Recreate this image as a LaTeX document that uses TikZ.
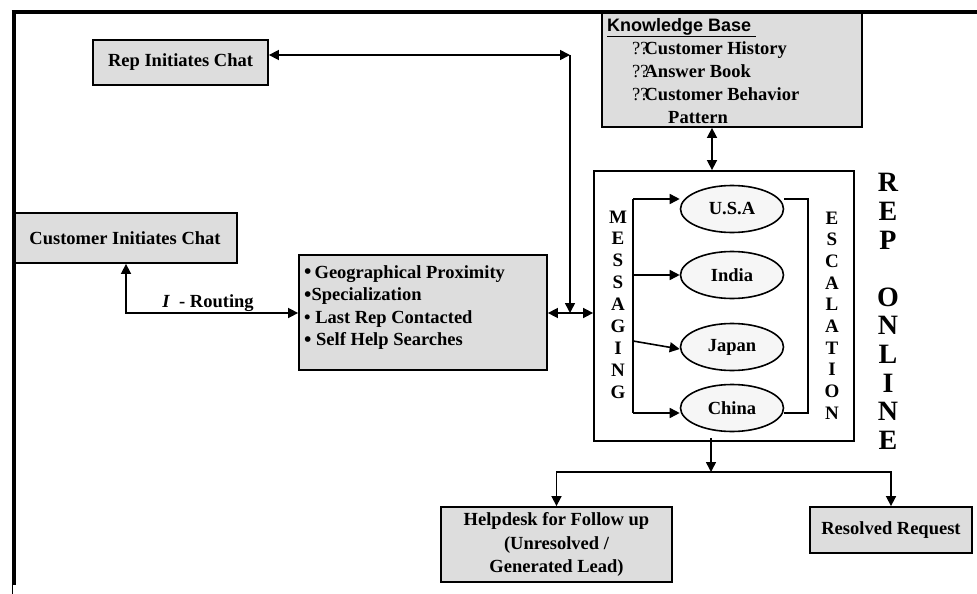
\documentclass[tikz,border=0pt]{standalone}
\usepackage{fontspec}
\setmainfont{Liberation Serif}
\newfontfamily\kbsans{Liberation Sans}
\usetikzlibrary{arrows.meta,shapes.geometric}

\definecolor{boxgray}{RGB}{221,221,221}
\definecolor{ellgray}{RGB}{246,246,246}

\newcommand{\dotmark}{\raisebox{-0.5pt}{\fontsize{21}{22}\selectfont\textbullet}}

\begin{document}
\begin{tikzpicture}[x=1pt,y=-1pt,
  >={Triangle[length=10pt,width=10pt]},
  every node/.style={font=\bfseries\fontsize{18.5}{22}\selectfont},
  box/.style={draw, line width=1.8pt, fill=boxgray, inner sep=0pt},
  region/.style={draw, ellipse, line width=1.6pt, fill=ellgray,
    minimum width=103pt, minimum height=47pt, inner sep=0pt},
  link/.style={line width=1.6pt},
  plain/.style={inner sep=0pt},
  column/.style={inner sep=0pt, align=center},
  frameline/.style={line width=4pt}
]
\useasboundingbox (0,0) rectangle (977,594);

% ---- boxes ----
\node[box, minimum width=175pt, minimum height=45pt] (rep) at (180.5,62.5) {Rep Initiates Chat};
\node[box, minimum width=224pt, minimum height=50pt] (cust) at (125,238) {Customer Initiates Chat};
\node[box, minimum width=248pt, minimum height=115pt] (route) at (423,312.5) {};
\node[box, minimum width=260pt, minimum height=114pt] (kb) at (732,70) {};
\node[draw, line width=1.8pt, fill=white, minimum width=260pt, minimum height=270pt] (online) at (724,306) {};
\node[box, minimum width=231pt, minimum height=75pt, align=center,
      font=\bfseries\fontsize{18.5}{23.5}\selectfont] (help) at (556.5,544.5)
      {Helpdesk for Follow up\\(Unresolved /\\Generated Lead)};
\node[box, minimum width=162pt, minimum height=46pt] (res) at (891,530) {Resolved Request};

% ---- box contents ----
\node[plain, anchor=north west, align=left,
      font=\bfseries\fontsize{18.5}{22.5}\selectfont] (criteria) at (304,265)
  {\dotmark\,Geographical Proximity\\
   \dotmark Specialization\\
   \textbullet\ Last Rep Contacted\\
   \dotmark\ Self Help Searches};

\node[plain, anchor=north west, align=left,
      font=\bfseries\fontsize{18.5}{23}\selectfont] (kbtext) at (607,18)
  {{\kbsans\fontsize{18}{23}\selectfont\underline{Knowledge Base\ }}\\
   \hspace*{25pt}{\mdseries ??}\kern-4pt Customer History\\
   \hspace*{25pt}{\mdseries ??}\kern-4pt Answer Book\\
   \hspace*{25pt}{\mdseries ??}\kern-4pt Customer Behavior\\
   \hspace*{61pt}Pattern};

% ---- regions ----
\node[region] (usa)   at (732,209) {U.S.A};
\node[region] (india) at (732,275) {India};
\node[region] (japan) at (732,347) {Japan};
\node[region] (china) at (732,408) {China};

\node[column, font=\bfseries\fontsize{19}{21.9}\selectfont] (msg) at (618,304.5)
  {M\\E\\S\\S\\A\\G\\I\\N\\G};
\node[column, font=\bfseries\fontsize{19}{21.7}\selectfont] (esc) at (832,315.5)
  {E\\S\\C\\A\\L\\A\\T\\I\\O\\N};
\node[column, font=\bfseries\fontsize{28}{28.6}\selectfont] (title) at (888,311.5)
  {R\\E\\P\\~\\O\\N\\L\\I\\N\\E};

% ---- routing ----
\coordinate (rt) at (126,313);
\draw[link,<->] (rt |- cust.south) -- (rt) -- (route.west |- rt);
\node[plain, anchor=base] (routelbl) at (208,307) {\textit{I}\ \ - Routing};

% ---- rep chat path ----
\coordinate (corner) at (570,55);
\coordinate (join) at (570,313);
\draw[link,<->] (rep.east |- corner) -- (corner);
\draw[link,->] (corner) -- (join);
\draw[link,<->] (route.east |- join) -- (online.west |- join);

% ---- knowledge base link ----
\coordinate (kbx) at (712,0);
\draw[link,<->] (kb.south -| kbx) -- (online.north -| kbx);

% ---- messaging ----
\coordinate (m1) at (633,199);
\coordinate (m2) at (633,275);
\coordinate (m3) at (633,341);
\coordinate (m4) at (633,413);
\draw[link] (m1) -- (m4);
\draw[link,->] (m1) -- (usa.west |- m1);
\draw[link,->] (m2) -- (india.west);
\draw[link,->] (m3) -- ([yshift=-2pt]japan.west);
\draw[link,->] (m4) -- (china.west |- m4);

% ---- escalation ----
\coordinate (e1) at (808,199);
\coordinate (e2) at (808,413);
\draw[link] (usa.east |- e1) -- (e1) -- (e2) -- (china.east |- e2);

% ---- outcomes ----
\coordinate (split) at (711,472);
\draw[link,->] ([yshift=4pt]online.south -| split) -- (split);
\draw[link,->] (split) -| (help.north);
\draw[link,->] (split) -| (res.north);

% ---- outer frame ----
\coordinate (ftl) at (13.5,12);
\coordinate (ftr) at (977,12);
\coordinate (fbl) at (13.5,585);
\coordinate (fend) at (12.5,594);
\draw[frameline] ([yshift=-2pt]ftl) -- (fbl);
\draw[frameline] ([xshift=-2pt]ftl) -- (ftr);
\draw[line width=1pt] (fbl -| fend) -- (fend);
\end{tikzpicture}
\end{document}
